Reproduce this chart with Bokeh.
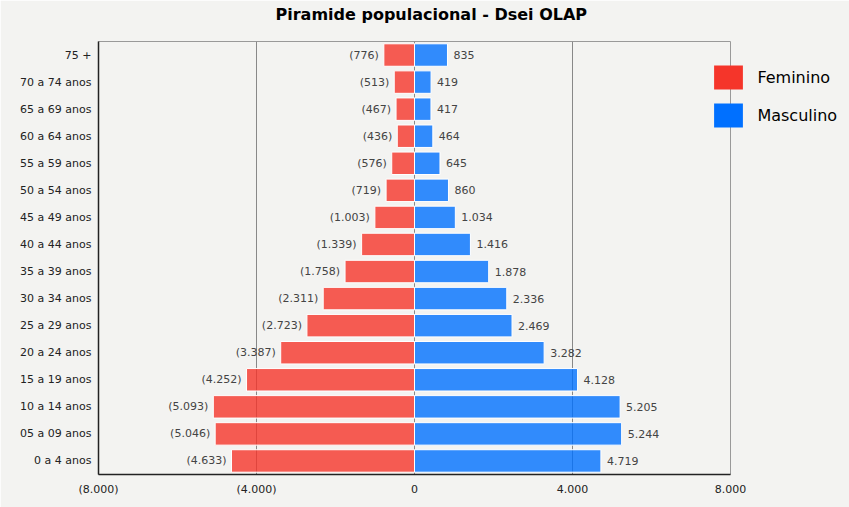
from bokeh.plotting import figure
from bokeh.models import FactorRange, Range1d, FixedTicker, ColumnDataSource, Legend, LegendItem, Title
from bokeh.core.properties import value
from bokeh.embed import file_html
from bokeh.resources import INLINE

categories = ["0 a 4 anos", "05 a 09 anos", "10 a 14 anos", "15 a 19 anos", "20 a 24 anos",
              "25 a 29 anos", "30 a 34 anos", "35 a 39 anos", "40 a 44 anos", "45 a 49 anos",
              "50 a 54 anos", "55 a 59 anos", "60 a 64 anos", "65 a 69 anos", "70 a 74 anos", "75 +"]
feminino = [4633, 5046, 5093, 4252, 3387, 2723, 2311, 1758, 1339, 1003, 719, 576, 436, 467, 513, 776]
masculino = [4719, 5244, 5205, 4128, 3282, 2469, 2336, 1878, 1416, 1034, 860, 645, 464, 417, 419, 835]
series_names = ["Feminino", "Masculino"]
x_ticks = [-8000, -4000, 0, 4000, 8000]
x_tick_labels = ["(8.000)", "(4.000)", "0", "4.000", "8.000"]
title_text = "Piramide populacional - Dsei OLAP"

def fmt(v):
    return f"{v:,}".replace(",", ".")

BG = "#f3f3f1"
RED = "#f5352a"
BLUE = "#0070ff"
FONT = "DejaVu Sans"

src = ColumnDataSource(dict(
    cat=categories,
    fneg=[-v for v in feminino],
    masc=masculino,
    flab=["(" + fmt(v) + ")" for v in feminino],
    mlab=[fmt(v) for v in masculino],
))

p = figure(width=849, height=507, output_backend="svg", toolbar_location=None,
           y_range=FactorRange(factors=categories, range_padding=0),
           x_range=Range1d(-8000, 8000),
           min_border_left=98, min_border_right=119, min_border_top=41, min_border_bottom=33,
           frame_width=632, frame_height=433)
p.background_fill_color = BG
p.border_fill_color = BG
p.outline_line_color = "#999999"
p.outline_line_width = 1
p.title.text = ""

# spacer between frame and title (closest to the frame), then the title itself
p.add_layout(Title(text=" ", text_font_size="1px", standoff=9), "above")
p.add_layout(Title(text=title_text, text_font=FONT, text_font_size="16px",
                   text_font_style="bold", text_color="#000000", align="left",
                   offset=177, vertical_align="top", standoff=8), "above")

p.hbar(y="cat", left="fneg", right=0, height=0.83, source=src,
       fill_color=RED, fill_alpha=0.8, line_color="white", line_width=1)
p.hbar(y="cat", left=0, right="masc", height=0.83, source=src,
       fill_color=BLUE, fill_alpha=0.8, line_color="white", line_width=1)

# legend proxies (hidden; full-strength colours as in the reference legend)
lf = p.hbar(y="cat", left="fneg", right=0, height=0.83, source=src,
            fill_color=RED, line_color=None, visible=False)
lm = p.hbar(y="cat", left=0, right="masc", height=0.83, source=src,
            fill_color=BLUE, line_color=None, visible=False)

p.text(x="fneg", y="cat", text="flab", source=src, x_offset=-5, text_align="right",
       text_baseline="middle", text_font=value(FONT), text_font_size="11px", text_color="#444444")
p.text(x="masc", y="cat", text="mlab", source=src, x_offset=6, text_align="left",
       text_baseline="middle", text_font=value(FONT), text_font_size="11px", text_color="#444444")

p.ygrid.grid_line_color = None
p.xgrid.ticker = FixedTicker(ticks=x_ticks)
p.xgrid.grid_line_color = "#888888"
p.xgrid.grid_line_width = 1

p.xaxis.ticker = FixedTicker(ticks=x_ticks)
p.xaxis.major_label_overrides = {t: l for t, l in zip(x_ticks, x_tick_labels)}
for ax in (p.xaxis, p.yaxis):
    ax.major_tick_out = 0
    ax.major_tick_in = 0
    ax.minor_tick_out = 0
    ax.minor_tick_in = 0
    ax.axis_line_color = "#222222"
    ax.axis_line_width = 1.5
    ax.major_label_text_font = FONT
    ax.major_label_text_font_size = "11px"
    ax.major_label_text_color = "#222222"
p.xaxis.major_label_standoff = 8
p.yaxis.major_label_standoff = 7

legend = Legend(items=[LegendItem(label=series_names[0], renderers=[lf]),
                       LegendItem(label=series_names[1], renderers=[lm])],
                location=(-19.6, 344), orientation="vertical",
                glyph_width=36, glyph_height=30, label_standoff=11, spacing=8,
                padding=0, margin=0, border_line_color=None, background_fill_alpha=0,
                inactive_fill_alpha=0, click_policy="none",
                label_text_font=FONT, label_text_font_size="16px", label_text_color="#000000",
                label_height=30)
p.add_layout(legend, "right")

open("out.html", "w").write(file_html(p, INLINE))
